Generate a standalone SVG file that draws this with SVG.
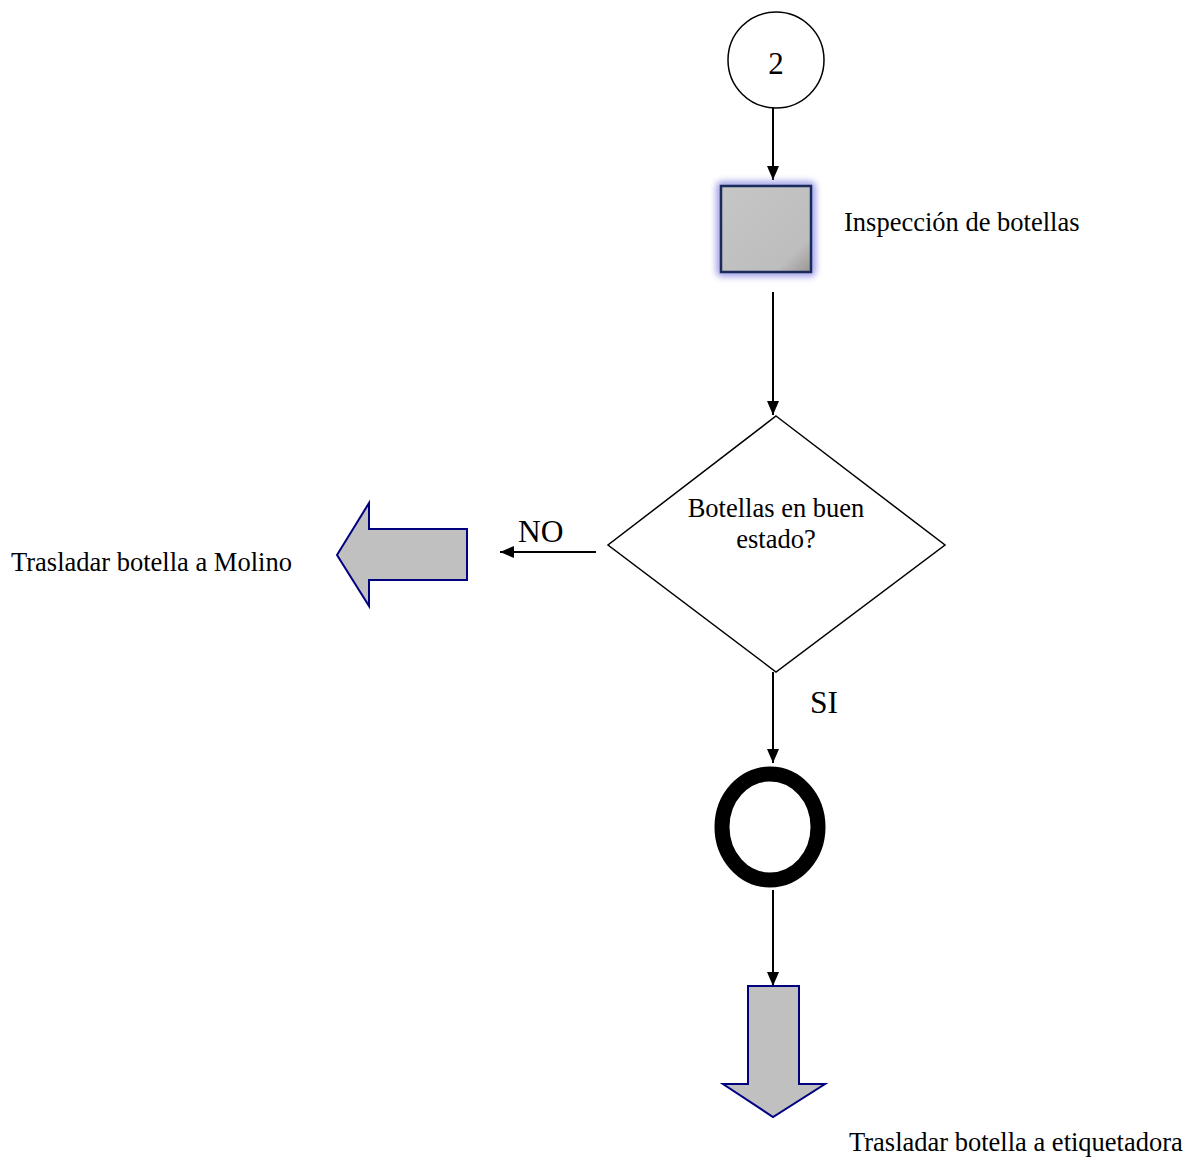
<svg xmlns="http://www.w3.org/2000/svg" width="1192" height="1160" viewBox="0 0 1192 1160">
  <style>
    .lbl { font-family: "Liberation Serif", "Times New Roman", serif; fill: #000; }
    .conn { stroke: #000; stroke-width: 2; fill: none; marker-end: url(#arrow); }
    .bigarrow { fill: #c0c0c0; stroke: #000080; stroke-width: 2; }
  </style>
  <defs>
    <marker id="arrow" viewBox="0 0 14 12" refX="14" refY="6" markerWidth="14" markerHeight="12" markerUnits="userSpaceOnUse" orient="auto">
      <path d="M0,0 L14,6 L0,12 Z" fill="#000"/>
    </marker>
    <filter id="glow" x="-30%" y="-30%" width="160%" height="160%">
      <feGaussianBlur stdDeviation="3"/>
    </filter>
    <filter id="soft" x="-20%" y="-20%" width="140%" height="140%">
      <feGaussianBlur stdDeviation="0.6"/>
    </filter>
    <linearGradient id="bevel" x1="0" y1="0" x2="1" y2="1">
      <stop offset="0" stop-color="#c6c6c6"/>
      <stop offset="0.8" stop-color="#bdbdbd"/>
      <stop offset="1" stop-color="#9a9494"/>
    </linearGradient>
  </defs>

  <!-- connectors -->
  <g id="connectors">
    <line class="conn" x1="773" y1="108" x2="773" y2="180"/>
    <line class="conn" x1="773" y1="292" x2="773" y2="415"/>
    <line class="conn" x1="596" y1="552" x2="500" y2="552"/>
    <line class="conn" x1="773" y1="672" x2="773" y2="763"/>
    <line class="conn" x1="773" y1="890" x2="773" y2="986"/>
    <text class="lbl" x="518" y="542" font-size="31.5">NO</text>
    <text class="lbl" x="810" y="713" font-size="31.5">SI</text>
  </g>

  <!-- connector circle -->
  <g id="start">
    <circle cx="776" cy="60" r="48" fill="#fff" stroke="#000" stroke-width="1.5"/>
    <text class="lbl" x="776" y="74" font-size="31" text-anchor="middle">2</text>
  </g>

  <!-- inspection square -->
  <g id="inspection">
    <rect x="716" y="181" width="100" height="96" rx="6" fill="#8080e0" opacity="0.7" filter="url(#glow)"/>
    <rect x="721" y="186" width="90" height="86" fill="url(#bevel)" stroke="#1a2a5a" stroke-width="2.5"/>
    <text class="lbl" x="844" y="231" font-size="26.5">Inspección de botellas</text>
  </g>

  <!-- decision -->
  <g id="decision">
    <polygon points="776,416 945,545 776,672 608,545" fill="#fff" stroke="#000" stroke-width="1.5"/>
    <text class="lbl" x="776" y="517" font-size="26.5" text-anchor="middle">Botellas en buen</text>
    <text class="lbl" x="776" y="548" font-size="26.5" text-anchor="middle">estado?</text>
  </g>

  <!-- reject arrow -->
  <g id="to-molino">
    <polygon class="bigarrow" points="337,555 369,503 369,529 467,529 467,580 369,580 369,606"/>
    <text class="lbl" x="11" y="571" font-size="26.5">Trasladar botella a Molino</text>
  </g>

  <!-- operation mark -->
  <g id="operation">
    <ellipse cx="770" cy="827" rx="48" ry="53" fill="none" stroke="#000" stroke-width="15" filter="url(#soft)"/>
  </g>

  <!-- forward arrow -->
  <g id="to-etiquetadora">
    <polygon class="bigarrow" points="748,986 799,986 799,1084 825,1084 773,1117 723,1084 748,1084"/>
    <text class="lbl" x="849" y="1151" font-size="26.5">Trasladar botella a etiquetadora</text>
  </g>
</svg>
